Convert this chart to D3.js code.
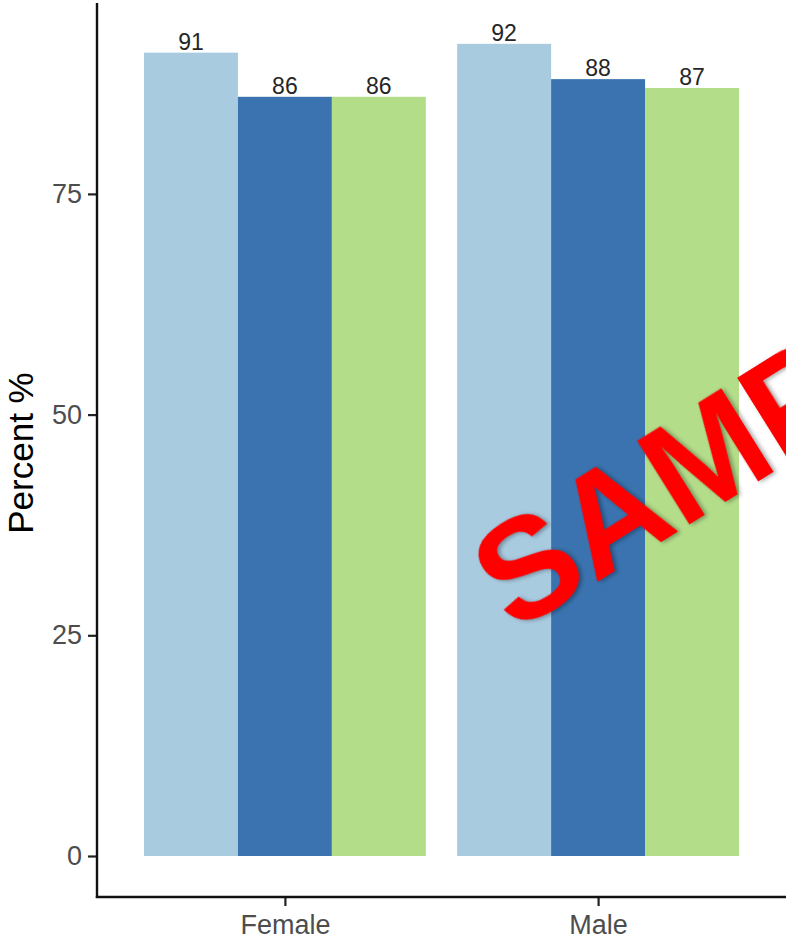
<!DOCTYPE html>
<html>
<head>
<meta charset="utf-8">
<script src="https://cdn.jsdelivr.net/npm/d3@7"></script>
<style>
html,body{margin:0;padding:0;background:#fff;overflow:hidden;}
svg{display:block;}
</style>
</head>
<body>
<svg id="chart" width="786" height="940"></svg>
<script>
const categories = ["Female", "Male"];
const seriesNames = ["Group A", "Group B", "Group C"];
const values = {
  "Group A": [91, 92],
  "Group B": [86, 88],
  "Group C": [86, 87]
};
const yTicks = [0, 25, 50, 75];
const colors = ["#a9cbe0", "#3a73af", "#b4dd8a"];

(function () {
const svg = d3.select("#chart");
const mLeft = 97, mRight = 786, mBottom = 897, mTop = 3;
const font = "Liberation Sans, Arial, sans-serif";

// ggplot-like discrete scale with 0.6 expansion
const xc = d3.scaleLinear().domain([0.4, 2.6]).range([mLeft, mRight]);
const y = d3.scaleLinear().domain([0, 25]).range([856, 635.3]);

const groupWidth = 0.9;
const inner = d3.scaleBand().domain(seriesNames).range([-groupWidth/2, groupWidth/2]).padding(0);

categories.forEach((cat, i) => {
  const center = i + 1;
  seriesNames.forEach((s, j) => {
    const v = values[s][i];
    const x0 = xc(center + inner(s));
    const x1 = xc(center + inner(s) + inner.bandwidth());
    svg.append("rect")
      .attr("x", x0).attr("y", y(v))
      .attr("width", x1 - x0).attr("height", y(0) - y(v))
      .attr("fill", colors[j]);
    svg.append("text")
      .attr("x", (x0 + x1) / 2).attr("y", y(v) - 3)
      .attr("text-anchor", "middle")
      .attr("font-family", font)
      .attr("font-size", 23)
      .attr("fill", "#262626")
      .text(v);
  });
});

// y axis
const yAxis = d3.axisLeft(y).tickValues(yTicks).tickSize(9).tickPadding(6);
const gy = svg.append("g").attr("transform", `translate(${mLeft},0)`).call(yAxis);
gy.select(".domain").remove();
gy.selectAll(".tick line").attr("stroke", "#222").attr("stroke-width", 2.2);
gy.selectAll(".tick text").attr("font-family", font)
  .attr("font-size", 27).attr("fill", "#4d4d4d");
svg.append("line").attr("x1", mLeft).attr("x2", mLeft).attr("y1", mTop).attr("y2", mBottom + 1)
  .attr("stroke", "#111").attr("stroke-width", 2.4);

// x axis
const xAxis = d3.axisBottom(xc).tickValues([1, 2]).tickFormat((d) => categories[d - 1]).tickSize(9).tickPadding(9);
const gx = svg.append("g").attr("transform", `translate(0,${mBottom})`).call(xAxis);
gx.select(".domain").remove();
gx.selectAll(".tick line").attr("stroke", "#222").attr("stroke-width", 2.2);
gx.selectAll(".tick text").attr("font-family", font)
  .attr("font-size", 27).attr("fill", "#4d4d4d");
svg.append("line").attr("x1", mLeft - 1.2).attr("x2", mRight).attr("y1", mBottom).attr("y2", mBottom)
  .attr("stroke", "#111").attr("stroke-width", 2.4);

// y title
svg.append("text")
  .attr("transform", `translate(33,453) rotate(-90)`)
  .attr("text-anchor", "middle")
  .attr("font-family", font)
  .attr("font-size", 35).attr("fill", "#000")
  .text("Percent %");

// watermark
svg.append("text")
  .attr("transform", "translate(514,634) rotate(-32)")
  .attr("font-family", font)
  .attr("font-weight", "bold")
  .attr("font-size", 142)
  .attr("fill", "#ff0000")
  .style("filter", "drop-shadow(2px 2px 2px rgba(0,0,0,0.35))")
  .text("SAMPLE");
})();
</script>
</body>
</html>
